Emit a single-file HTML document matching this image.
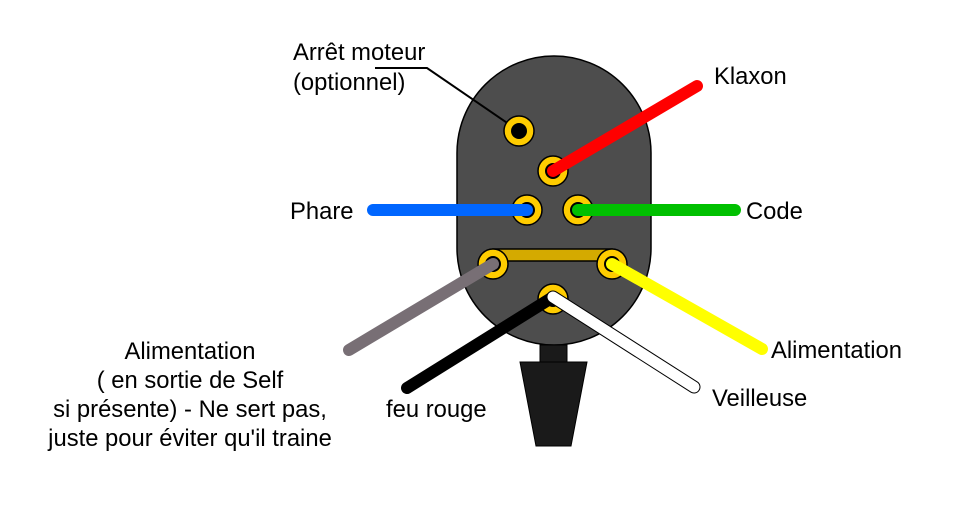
<!DOCTYPE html>
<html><head><meta charset="utf-8"><style>
html,body{margin:0;padding:0;background:#fff;width:968px;height:505px;overflow:hidden}
text{font-family:"Liberation Sans",sans-serif;font-size:23.8px;fill:#000}
</style></head><body>
<svg width="968" height="505" viewBox="0 0 968 505" xmlns="http://www.w3.org/2000/svg">
<rect x="457" y="56" width="194" height="289" rx="97" ry="97" fill="#4d4d4d" stroke="#000" stroke-width="1.5"/>
<rect x="540" y="345" width="27" height="18" fill="#1a1a1a" stroke="#000"/>
<polygon points="520,362 587,362 571,446 536,446" fill="#1a1a1a" stroke="#000"/>
<polyline points="375,68 427,68 519,131" fill="none" stroke="#000" stroke-width="2"/>
<rect x="493" y="249" width="119" height="12" fill="#d4aa00" stroke="#000" stroke-width="1.5"/>
<g fill="#ffcc00" stroke="#000" stroke-width="1.5">
<circle cx="519" cy="131" r="15"/><circle cx="553" cy="171" r="15"/>
<circle cx="527" cy="210" r="15"/><circle cx="578" cy="210" r="15"/>
<circle cx="493" cy="264" r="15"/><circle cx="612" cy="264" r="15"/>
<circle cx="553" cy="299" r="15"/>
</g>
<g fill="#000"><circle cx="519" cy="131" r="8"/><circle cx="553" cy="171" r="8"/><circle cx="527" cy="210" r="8"/><circle cx="578" cy="210" r="8"/><circle cx="493" cy="264" r="8"/><circle cx="612" cy="264" r="8"/><circle cx="553" cy="299" r="8"/></g>
<g stroke-linecap="round" stroke-width="12" fill="none">
<line x1="553" y1="171" x2="697" y2="86" stroke="#ff0000"/>
<line x1="373" y1="210" x2="527" y2="210" stroke="#0066ff"/>
<line x1="578" y1="210" x2="735" y2="210" stroke="#00c000"/>
<line x1="493" y1="264" x2="349" y2="350" stroke="#786f75"/>
<line x1="612" y1="264" x2="762" y2="349" stroke="#ffff00"/>
<line x1="553" y1="297" x2="407" y2="388" stroke="#000"/>
<line x1="553" y1="297" x2="694" y2="387" stroke="#000" stroke-width="13"/>
<line x1="553" y1="297" x2="694" y2="387" stroke="#fff" stroke-width="11"/>
</g>
<text x="293" y="60">Arrêt moteur</text>
<text x="293" y="90">(optionnel)</text>
<text x="714" y="84">Klaxon</text>
<text x="290" y="219">Phare</text>
<text x="746" y="219">Code</text>
<text x="771" y="358">Alimentation</text>
<text x="712" y="406">Veilleuse</text>
<text x="386" y="417">feu rouge</text>
<g text-anchor="middle">
<text x="190" y="359">Alimentation</text>
<text x="190" y="388">( en sortie de Self</text>
<text x="190" y="417">si présente) - Ne sert pas,</text>
<text x="190" y="446">juste pour éviter qu'il traine</text>
</g>
</svg>
</body></html>
